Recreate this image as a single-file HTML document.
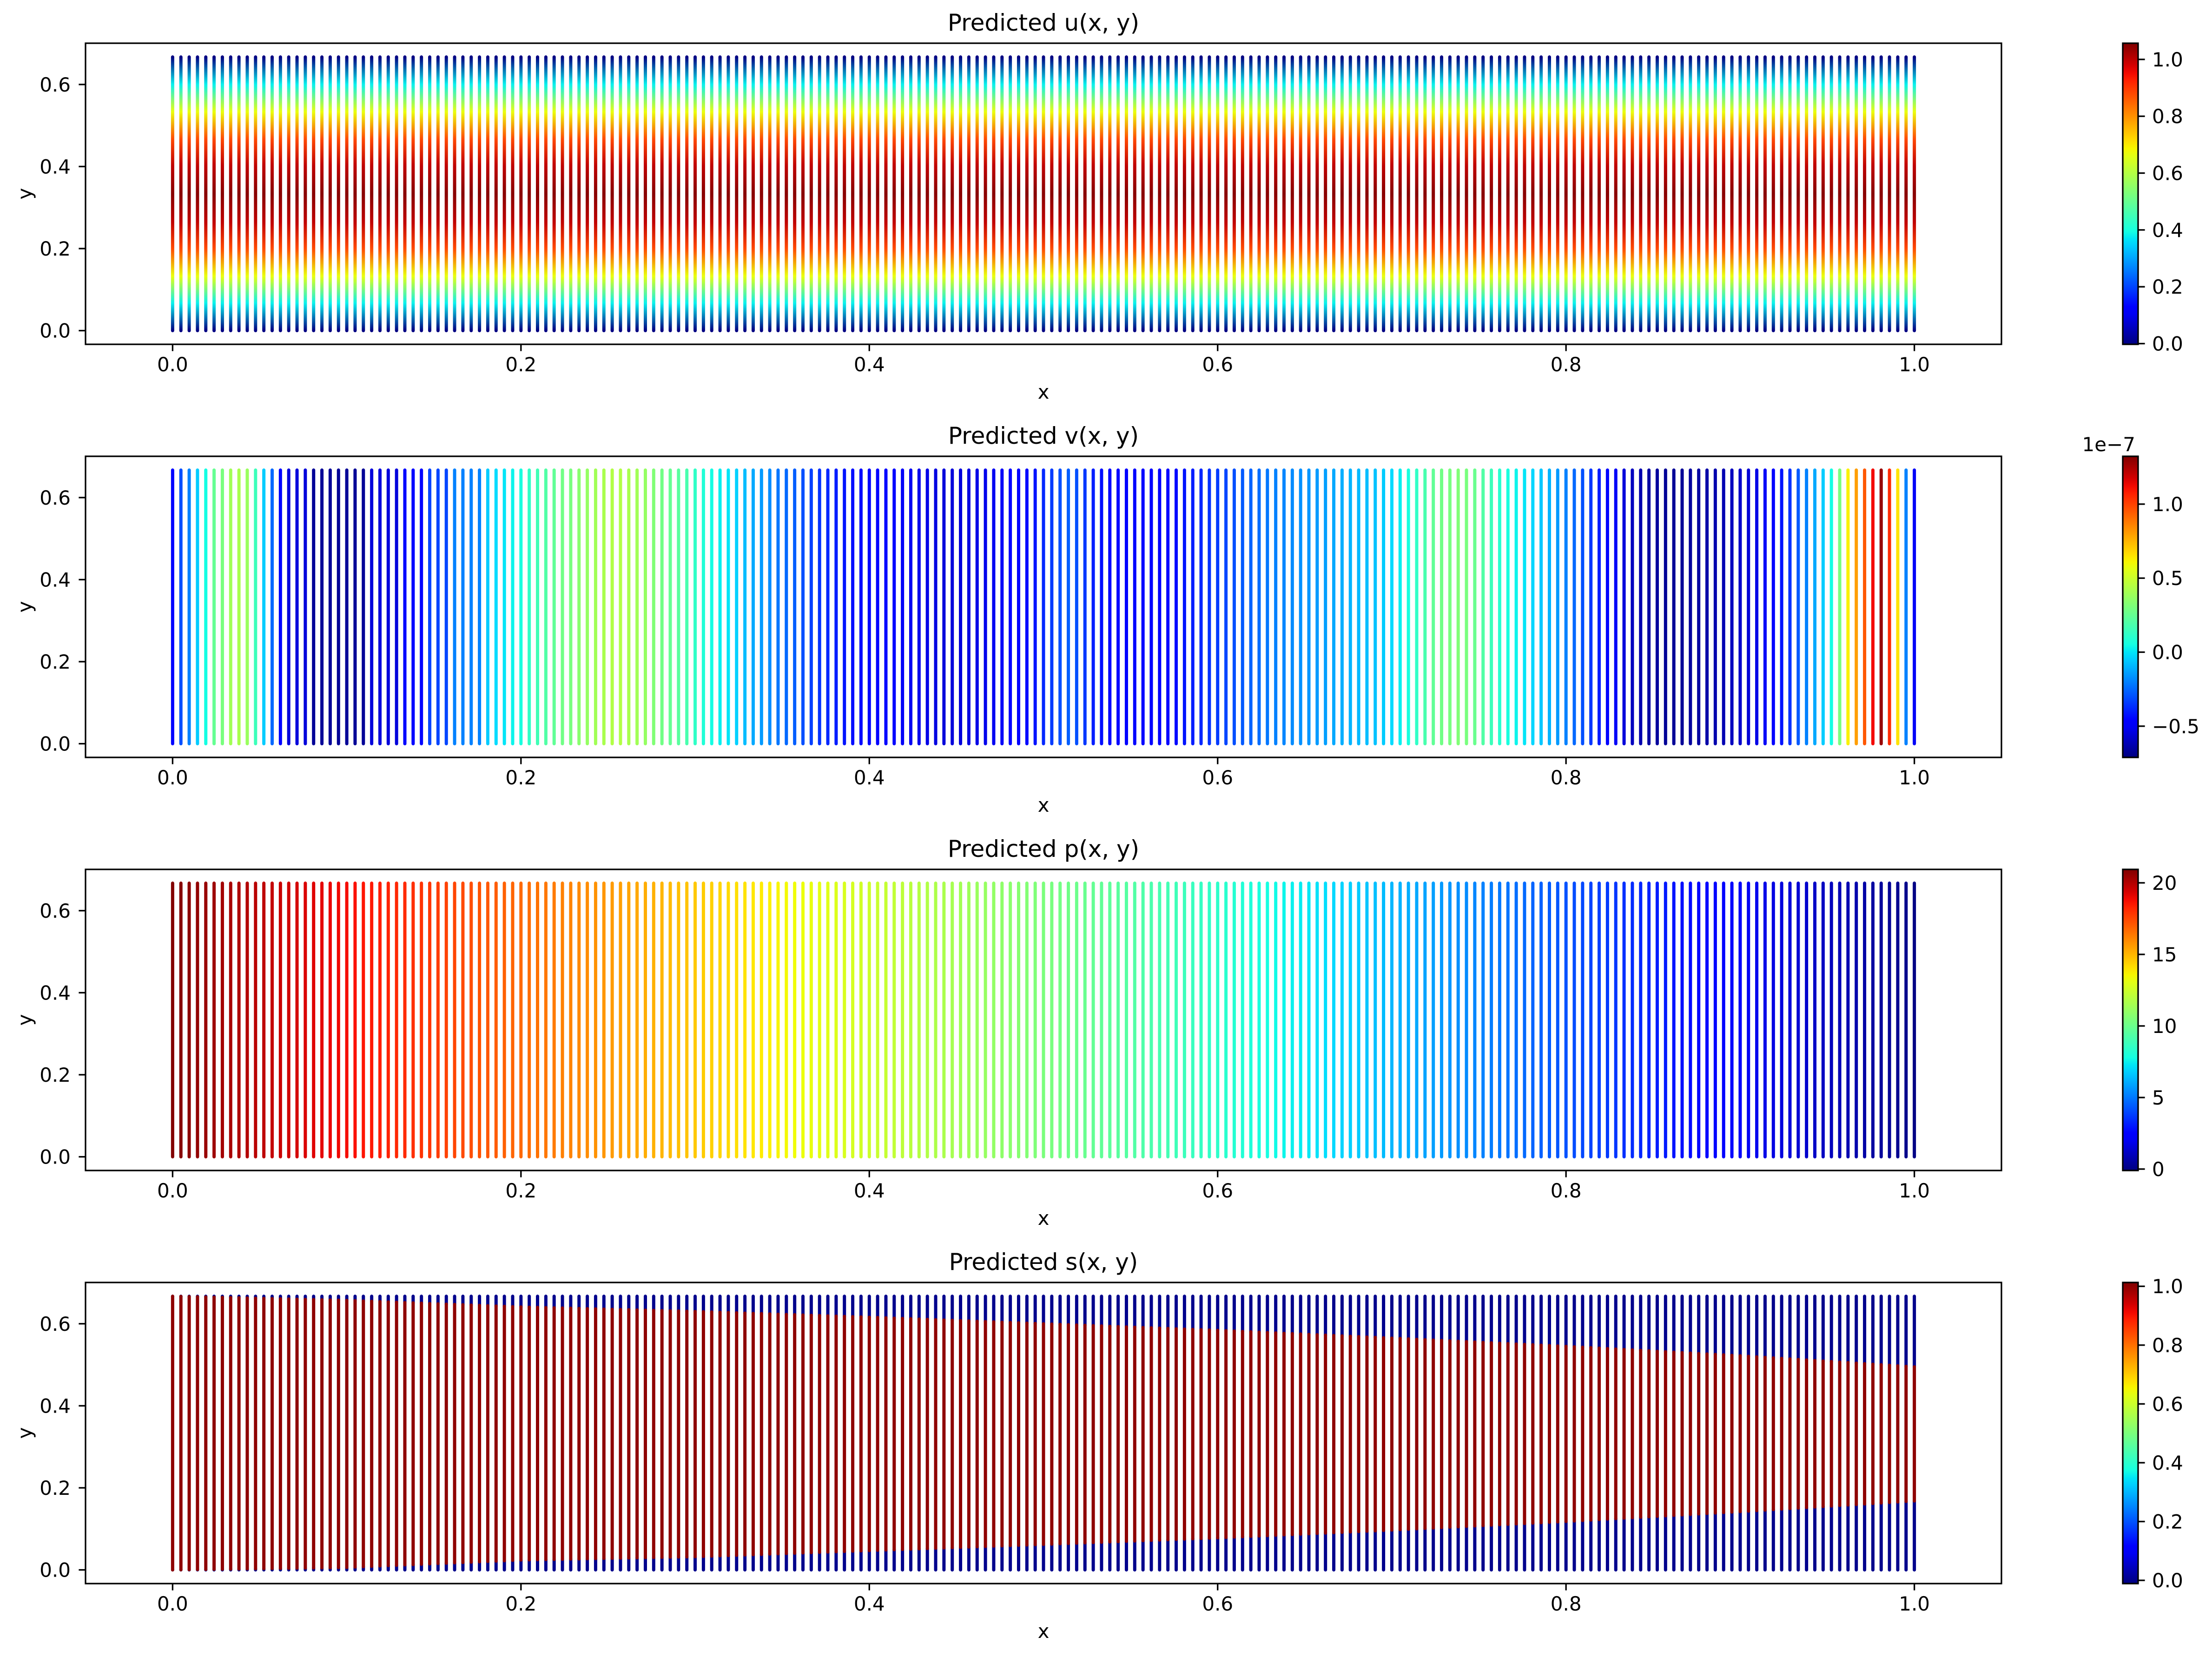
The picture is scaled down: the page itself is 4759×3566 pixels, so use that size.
<!DOCTYPE html>
<html><head><meta charset="utf-8"><title>Predicted fields</title>
<style>html,body{margin:0;padding:0;background:#fff}svg{display:block}text{font-family:"DejaVu Sans","Liberation Sans",sans-serif;fill:#000}</style>
</head><body>
<svg id="fig" xmlns="http://www.w3.org/2000/svg" width="4759" height="3566" viewBox="0 0 4759 3566"></svg>
<script>
// ---- data ----
const nCols = 211;
const yTop = 0.667;
const uYLevels = [0,0.0667,0.1333,0.2,0.2667,0.3333,0.4,0.4667,0.5333,0.6,0.667];
const uProfile = [0,0.38,0.67,0.88,1.0,1.05,1.0,0.88,0.67,0.38,0];
const vCols = [-0.45,-0.3,-0.2,-0.05,0.05,0.25,0.3,0.4,0.42,0.38,0.15,-0.05,-0.25,-0.45,
-0.55,-0.55,-0.55,
-0.67,-0.67,-0.67,-0.67,-0.67,-0.67,-0.67,
-0.55,-0.55,-0.55,-0.55,
-0.45,-0.45,-0.45,
-0.32,-0.32,-0.32,
-0.2,-0.2,-0.2,-0.2,
-0.05,-0.02,0,0.03,0.06,
0.12,0.16,0.2,0.24,0.28,0.3,
0.34,0.37,0.4,0.42,0.44,0.44,0.42,0.4,0.37,
0.32,0.28,0.25,0.22,0.18,
0.12,0.08,0.05,0.02,0,
-0.04,-0.08,-0.12,-0.15,-0.18,
-0.22,-0.25,-0.27,-0.3,-0.33,-0.36,
-0.38,-0.4,-0.42,-0.43,-0.44,-0.45,-0.46,
-0.47,-0.48,-0.5,-0.51,-0.52,-0.53,-0.54,-0.55,-0.55,-0.55,-0.54,-0.53,-0.52,-0.51,-0.5,
-0.48,-0.46,-0.44,-0.42,-0.38,-0.34,-0.3,
-0.27,-0.3,-0.35,-0.4,
-0.43,-0.45,-0.46,-0.47,-0.48,-0.48,-0.48,-0.47,-0.46,-0.44,-0.42,-0.4,-0.38,
-0.36,-0.34,-0.32,-0.3,-0.28,-0.26,-0.24,-0.22,
-0.2,-0.19,-0.18,-0.17,-0.16,-0.15,-0.14,-0.12,-0.11,-0.1,-0.09,-0.08,-0.07,
-0.05,-0.02,0.02,0.06,
0.12,0.18,0.24,0.28,0.3,0.32,0.3,0.26,
0.2,0.15,0.1,0.06,0.03,0.0,-0.03,-0.06,-0.1,
-0.15,-0.2,-0.25,-0.3,-0.35,-0.4,
-0.45,-0.5,-0.55,-0.6,
-0.63,-0.65,-0.66,-0.67,-0.67,-0.67,-0.66,-0.65,-0.64,-0.63,-0.62,-0.6,-0.58,-0.56,
-0.53,-0.5,-0.46,-0.42,-0.36,
-0.28,-0.2,-0.12,-0.05,
0.05,0.3,0.62,0.8,0.95,1.12,1.28,1.05,0.65,-0.2,-0.5];
const xSamples = [0,0.1,0.2,0.3,0.4,0.5,0.6,0.7,0.8,0.9,1.0];
const pValues = [20.9,18.8,16.7,14.6,12.5,10.4,8.4,6.3,4.2,2.1,0.0];
const sLower = [0,0.006,0.024,0.032,0.047,0.062,0.078,0.097,0.118,0.142,0.168];
const sUpper = [0.667,0.657,0.641,0.63,0.616,0.6,0.584,0.565,0.545,0.522,0.495];
const xTicks = [0,0.2,0.4,0.6,0.8,1.0];
const xTickLabels = ["0.0","0.2","0.4","0.6","0.8","1.0"];
const yTicks = [0,0.2,0.4,0.6];
const yTickLabels = ["0.0","0.2","0.4","0.6"];
const titles = ["Predicted u(x, y)","Predicted v(x, y)","Predicted p(x, y)","Predicted s(x, y)"];
const cbRanges = [[-0.0025,1.057],[-0.711,1.323],[-0.1,20.94],[-0.011,1.013]];
const cbTicks = [[0,0.2,0.4,0.6,0.8,1.0],[-0.5,0,0.5,1.0],[0,5,10,15,20],[0,0.2,0.4,0.6,0.8,1.0]];
const cbTickLabels = [["0.0","0.2","0.4","0.6","0.8","1.0"],["\u22120.5","0.0","0.5","1.0"],["0","5","10","15","20"],["0.0","0.2","0.4","0.6","0.8","1.0"]];

// ---- layout ----
const NS="http://www.w3.org/2000/svg";
const svg=document.getElementById('fig');
const AX_L=184, AX_R=4306, AX_H=648, PANEL_TOPS=[93,982,1871,2760];
const XMIN=-0.05, XMAX=1.05, YMIN=-0.0334, YMAX=0.7006;
const CB_L=4567, CB_W=33;
function el(tag,attrs,parent){const e=document.createElementNS(NS,tag);for(const k in attrs)e.setAttribute(k,attrs[k]);(parent||svg).appendChild(e);return e;}
function xs(v){return AX_L+(v-XMIN)/(XMAX-XMIN)*(AX_R-AX_L);}
function ysF(top){return v=>top+AX_H-(v-YMIN)/(YMAX-YMIN)*AX_H;}
function interp(a,b,t){return a+(b-a)*t;}
function jet(t){t=Math.max(0,Math.min(1,t));
 function seg(pts){for(let i=1;i<pts.length;i++){if(t<=pts[i][0]){const f=(t-pts[i-1][0])/(pts[i][0]-pts[i-1][0]);return interp(pts[i-1][1],pts[i][1],f);}}return pts[pts.length-1][1];}
 const r=seg([[0,0],[0.35,0],[0.66,1],[0.89,1],[1,0.5]]);
 const g=seg([[0,0],[0.125,0],[0.375,1],[0.64,1],[0.91,0],[1,0]]);
 const b=seg([[0,0.5],[0.11,1],[0.34,1],[0.65,0],[1,0]]);
 return `rgb(${Math.round(r*255)},${Math.round(g*255)},${Math.round(b*255)})`;}
function atX(arr,x){const k=x*(xSamples.length-1);const i=Math.min(Math.floor(k),xSamples.length-2);return interp(arr[i],arr[i+1],k-i);}

const defs=el('defs',{});
// colorbar gradient
const cbg=el('linearGradient',{id:'jetv',x1:0,y1:1,x2:0,y2:0},defs);
for(let i=0;i<=40;i++){el('stop',{offset:i/40,'stop-color':jet(i/40)},cbg);}

PANEL_TOPS.forEach((top,pi)=>{
 const ys=ysF(top);
 const g=el('g',{});
 
 
 const [cmin,cmax]=cbRanges[pi];
 const norm=v=>(v-cmin)/(cmax-cmin);
 const y0=ys(0), y1=ys(yTop);
 const marks=el('g',{},g);
 
 
 if(pi===0){
  const gr=el('linearGradient',{id:'ugrad',gradientUnits:'userSpaceOnUse',x1:0,y1:y0,x2:0,y2:y1},defs);
  uYLevels.forEach((yv,i)=>el('stop',{offset:yv/yTop,'stop-color':jet(norm(uProfile[i]))},gr));
 }
 for(let i=0;i<nCols;i++){
  const xv=i/(nCols-1), cx=xs(xv);
  if(pi===0){
   const ln=el('line',{x1:cx,x2:cx,y1:y0,y2:y1,stroke:'url(#ugrad)','stroke-width':7,'stroke-linecap':'round'},marks);
   
   
  } else if(pi===1){
   const ln=el('line',{x1:cx,x2:cx,y1:y0,y2:y1,stroke:jet(norm(vCols[i])),'stroke-width':7,'stroke-linecap':'round'},marks);
   
   
  } else if(pi===2){
   const ln=el('line',{x1:cx,x2:cx,y1:y0,y2:y1,stroke:jet(norm(atX(pValues,xv))),'stroke-width':7,'stroke-linecap':'round'},marks);
   
   
  } else {
   const lo=atX(sLower,xv), hi=atX(sUpper,xv);
   const blue=jet(norm(0)), red=jet(norm(1));
   const a=el('line',{x1:cx,x2:cx,y1:y0,y2:ys(lo),stroke:blue,'stroke-width':7,'stroke-linecap':'round'},marks);
   
   
   const c=el('line',{x1:cx,x2:cx,y1:ys(hi),y2:y1,stroke:blue,'stroke-width':7,'stroke-linecap':'round'},marks);
   
   
   const b=el('line',{x1:cx,x2:cx,y1:ys(lo),y2:ys(hi),stroke:red,'stroke-width':7,'stroke-linecap':'round'},marks);
   
   
  }
 }
 // frame
 const fr=el('rect',{x:AX_L,y:top,width:AX_R-AX_L,height:AX_H,fill:'none',stroke:'#000','stroke-width':3.3},g);
 
 
 // x ticks
 xTicks.forEach((t,i)=>{const x=xs(t);
  el('line',{x1:x,x2:x,y1:top+AX_H,y2:top+AX_H+14.6,stroke:'#000','stroke-width':3.3},g);
  const tx=el('text',{x:x,y:top+AX_H+58,'text-anchor':'middle','font-size':42},g);tx.textContent=xTickLabels[i];
  
  
 });
 yTicks.forEach((t,i)=>{const y=ys(t);
  el('line',{x1:AX_L,x2:AX_L-14.6,y1:y,y2:y,stroke:'#000','stroke-width':3.3},g);
  const tx=el('text',{x:152,y:y+15,'text-anchor':'end','font-size':42},g);tx.textContent=yTickLabels[i];
  
  
 });
 const xl=el('text',{x:(AX_L+AX_R)/2,y:top+AX_H+117,'text-anchor':'middle','font-size':42},g);xl.textContent='x';
 
 
 const yl=el('text',{x:0,y:0,'text-anchor':'middle','font-size':42,transform:`translate(68,${top+AX_H/2}) rotate(-90)`},g);yl.textContent='y';
 
 
 const ti=el('text',{x:(AX_L+AX_R)/2,y:top-27,'text-anchor':'middle','font-size':50},g);ti.textContent=titles[pi];
 
 
 // colorbar
 const cb=el('g',{},g);
 
 
 el('rect',{x:CB_L,y:top,width:CB_W,height:AX_H,fill:'url(#jetv)',stroke:'#000','stroke-width':3.3},cb);
 cbTicks[pi].forEach((t,i)=>{const y=top+AX_H-(t-cmin)/(cmax-cmin)*AX_H;
  el('line',{x1:CB_L+CB_W,x2:CB_L+CB_W+14.6,y1:y,y2:y,stroke:'#000','stroke-width':3.3},cb);
  const tx=el('text',{x:4630,y:y+15,'font-size':42},cb);tx.textContent=cbTickLabels[pi][i];
  
  
 });
 if(pi===1){const off=el('text',{x:4594,y:top-11,'text-anchor':'end','font-size':42},cb);off.textContent='1e\u22127';
  
  }
});
</script>
</body></html>
